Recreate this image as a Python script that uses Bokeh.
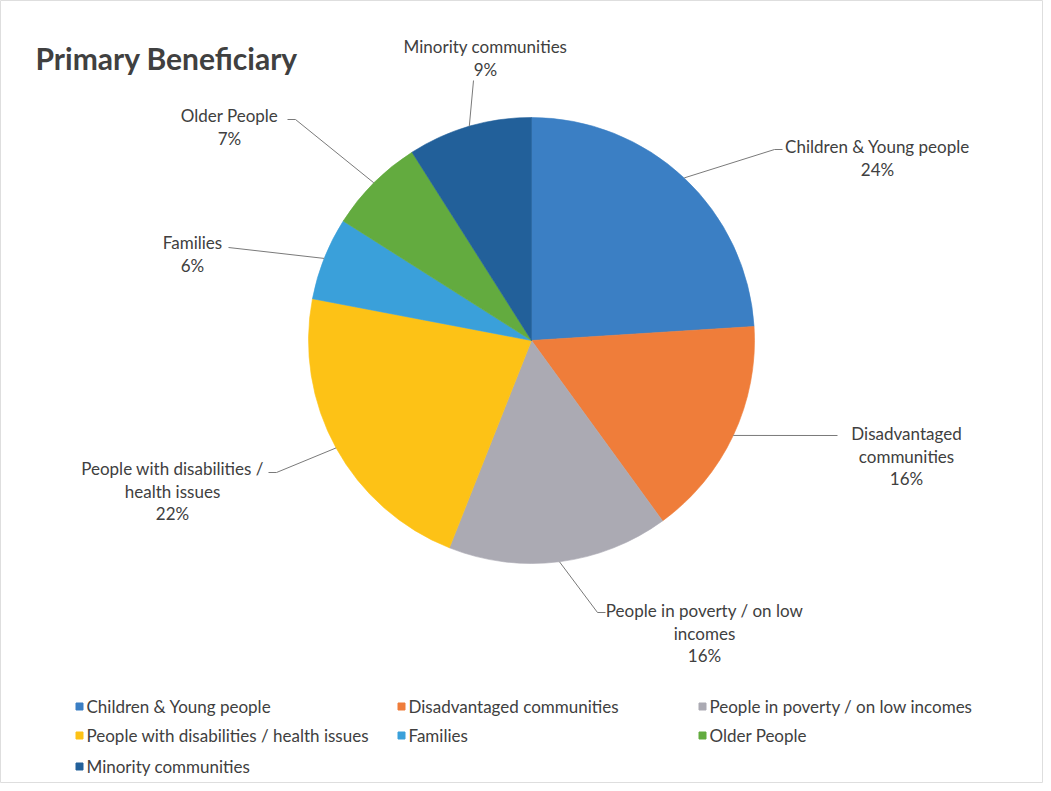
import math
from bokeh.plotting import figure
from bokeh.models import Range1d
from bokeh.embed import file_html
from bokeh.resources import INLINE
from bokeh.core.properties import value

# ---- data ----
categories = [
    "Children & Young people",
    "Disadvantaged communities",
    "People in poverty / on low incomes",
    "People with disabilities / health issues",
    "Families",
    "Older People",
    "Minority communities",
]
percent = [24, 16, 16, 22, 6, 7, 9]
slice_labels = [
    "Children & Young people",
    "Disadvantaged\ncommunities",
    "People in poverty / on low\nincomes",
    "People with disabilities /\nhealth issues",
    "Families",
    "Older People",
    "Minority communities",
]
colors = ["#3b7fc4", "#ef7d3a", "#abaab3", "#fdc216", "#3aa0da", "#63ab3f", "#22609a"]
title_text = "Primary Beneficiary"

# ---- layout (page pixel coordinates, converted below) ----
W, H = 1043, 783
OFF = 0


def X(x):
    return x - OFF


def Y(y):
    return H + OFF - y


CX, CY, R = X(531), Y(340), 223
label_pos = [(877, 146), (906, 433), (704, 610), (172, 468), (192, 242), (229, 115), (485, 46)]
anchor_pos = [(782, 149), (837, 435), (605, 612), (268, 472), (228, 247), (287, 119), (473, 80)]
stub = [8, 0, 8, 8, 0, 8, 0]
LINE_H = 22.5
legend_cols = [79, 401, 702]
legend_rows = [706, 735, 766]
TEXT_COLOR = "#404040"
FONT = value("Lato")

p = figure(width=W, height=H, output_backend="svg", toolbar_location=None,
           x_range=Range1d(0, W), y_range=Range1d(0, H),
           x_axis_type=None, y_axis_type=None, min_border=0,
           background_fill_color="white", border_fill_color="white")
p.grid.visible = False
p.outline_line_color = "#dedede"

total = float(sum(percent))
starts, ends, mids = [], [], []
cum = 0.0
for v in percent:
    a0 = math.pi / 2 - 2 * math.pi * cum / total
    cum += v
    a1 = math.pi / 2 - 2 * math.pi * cum / total
    starts.append(a0)
    ends.append(a1)
    mids.append((a0 + a1) / 2)

p.wedge(x=[CX] * len(percent), y=[CY] * len(percent), radius=R,
        start_angle=starts, end_angle=ends, direction="clock",
        fill_color=colors, line_color=colors, line_width=0.6)

# leader lines
xs, ys = [], []
for i, m in enumerate(mids):
    ex, ey = CX + R * math.cos(m), CY + R * math.sin(m)
    ax, ay = X(anchor_pos[i][0]), Y(anchor_pos[i][1])
    sgn = -1 if ax > CX else 1
    bx = ax + sgn * stub[i]
    xs.append([ex, bx, ax])
    ys.append([ey, ay, ay])
p.multi_line(xs=xs, ys=ys, line_color="#7a7a7a", line_width=1)

# slice labels
tx, ty, tt = [], [], []
for i, lab in enumerate(slice_labels):
    lines = lab.split("\n") + ["%d%%" % percent[i]]
    lx, ly = label_pos[i]
    for k, ln in enumerate(lines):
        tx.append(X(lx))
        ty.append(Y(ly + k * LINE_H))
        tt.append(ln)
p.text(x=tx, y=ty, text=tt, text_align="center", text_baseline="middle",
       text_font=FONT, text_font_size="17px", text_color=TEXT_COLOR)

# title
p.text(x=[X(35)], y=[Y(57)], text=[title_text], text_align="left", text_baseline="middle",
       text_font=FONT, text_font_size="30px", text_font_style="bold", text_color=TEXT_COLOR)

# legend
lgx, lgy, sqx = [], [], []
for i, c in enumerate(categories):
    r, col = divmod(i, 3)
    sqx.append(X(legend_cols[col]))
    lgy.append(Y(legend_rows[r]))
    lgx.append(X(legend_cols[col] + 7))
p.scatter(x=sqx, y=lgy, marker="square", size=7, fill_color=colors, line_color=colors)
p.text(x=lgx, y=lgy, text=categories, text_align="left", text_baseline="middle",
       text_font=FONT, text_font_size="17px", text_color=TEXT_COLOR)

open("out.html", "w").write(file_html(p, INLINE))
